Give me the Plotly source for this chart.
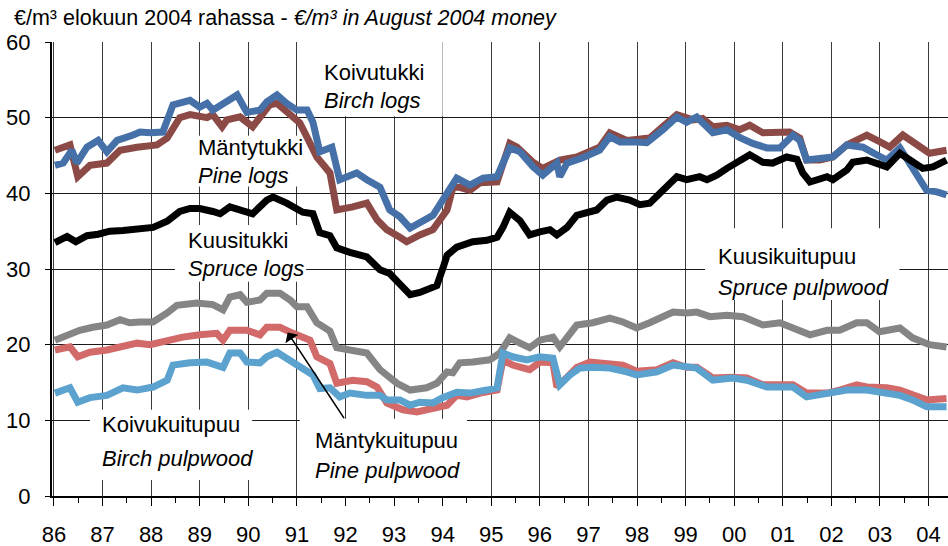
import plotly.graph_objects as go

# Real wood prices, €/m³ in August 2004 money, by decimal year
spruce_logs_t = [1986.02, 1986.27, 1986.45, 1986.68, 1986.91, 1987.15, 1987.42, 1987.77, 1988.04, 1988.33,
                 1988.59, 1988.80, 1989.00, 1989.27, 1989.42, 1989.62, 1989.83, 1990.09, 1990.38, 1990.51,
                 1990.79, 1991.12, 1991.33, 1991.47, 1991.68, 1991.82, 1992.09, 1992.44, 1992.71, 1992.91,
                 1993.12, 1993.33, 1993.53, 1993.67, 1993.88, 1994.00, 1994.09, 1994.29, 1994.62, 1994.91,
                 1995.12, 1995.24, 1995.38, 1995.59, 1995.79, 1996.00, 1996.21, 1996.35, 1996.56, 1996.76,
                 1996.97, 1997.17, 1997.38, 1997.58, 1997.85, 1998.06, 1998.26, 1998.53, 1998.82, 1999.02,
                 1999.29, 1999.44, 1999.64, 1999.85, 2000.05, 2000.32, 2000.59, 2000.79, 2001.08, 2001.29,
                 2001.41, 2001.56, 2001.91, 2002.03, 2002.32, 2002.44, 2002.73, 2002.99, 2003.14, 2003.41,
                 2003.67, 2003.88, 2004.09, 2004.37]
spruce_logs = [33.5, 34.3, 33.6, 34.4, 34.6, 35.0, 35.1, 35.3, 35.5, 36.3,
               37.6, 38.0, 38.0, 37.6, 37.3, 38.2, 37.8, 37.3, 39.1, 39.5,
               38.7, 37.5, 37.3, 34.8, 34.4, 32.8, 32.2, 31.6, 29.9, 29.4,
               28.0, 26.6, 26.9, 27.2, 27.8, 30.0, 31.8, 32.9, 33.6, 33.8,
               34.2, 35.5, 37.5, 36.4, 34.5, 34.9, 35.2, 34.5, 35.5, 37.1,
               37.5, 37.8, 39.1, 39.5, 39.1, 38.5, 38.7, 40.4, 42.2, 41.8,
               42.2, 41.8, 42.4, 43.3, 44.1, 45.1, 44.1, 44.0, 44.8, 44.5,
               42.7, 41.5, 42.2, 41.8, 43.1, 44.1, 44.4, 43.7, 43.5, 45.3,
               44.1, 43.3, 43.5, 44.4]

birch_logs_t = [1986.02, 1986.19, 1986.37, 1986.47, 1986.68, 1986.91, 1987.09, 1987.30, 1987.63, 1987.77,
                1987.98, 1988.24, 1988.45, 1988.80, 1989.00, 1989.15, 1989.27, 1989.56, 1989.77, 1989.97,
                1990.24, 1990.38, 1990.59, 1990.79, 1991.00, 1991.21, 1991.33, 1991.47, 1991.72, 1991.88,
                1992.09, 1992.23, 1992.44, 1992.71, 1992.91, 1993.12, 1993.33, 1993.53, 1993.80, 1994.00,
                1994.29, 1994.56, 1994.83, 1995.12, 1995.24, 1995.38, 1995.59, 1995.86, 1996.06, 1996.35,
                1996.41, 1996.56, 1996.88, 1997.23, 1997.44, 1997.65, 1997.91, 1998.20, 1998.53, 1998.82,
                1999.02, 1999.23, 1999.56, 1999.85, 2000.11, 2000.38, 2000.67, 2000.94, 2001.21, 2001.35,
                2001.49, 2001.76, 2002.03, 2002.32, 2002.65, 2002.93, 2003.14, 2003.41, 2003.67, 2003.96,
                2004.17, 2004.37]
birch_logs = [43.7, 44.0, 45.7, 44.0, 46.1, 47.0, 45.5, 47.0, 47.7, 48.1,
              48.0, 48.1, 51.7, 52.3, 51.4, 51.9, 51.0, 52.3, 53.0, 50.7,
              51.0, 52.1, 53.0, 51.9, 51.0, 51.0, 49.4, 45.5, 46.1, 41.8,
              42.2, 42.7, 41.8, 40.8, 37.8, 36.9, 35.4, 36.2, 37.1, 39.1,
              42.0, 41.1, 42.0, 42.2, 44.0, 46.0, 45.5, 43.5, 42.4, 44.0,
              42.2, 44.0, 44.7, 45.7, 47.5, 46.8, 46.8, 46.7, 48.4, 50.1,
              49.4, 50.1, 48.0, 48.4, 47.4, 46.6, 46.0, 46.0, 47.7, 47.0,
              44.4, 44.7, 44.8, 46.4, 46.1, 45.1, 44.4, 46.0, 43.5, 40.4,
              40.2, 39.8]

pine_logs_t = [1986.02, 1986.33, 1986.49, 1986.74, 1987.09, 1987.36, 1987.71, 1988.12, 1988.33, 1988.59,
               1988.80, 1989.15, 1989.27, 1989.46, 1989.56, 1989.83, 1990.09, 1990.44, 1990.59, 1990.79,
               1991.06, 1991.21, 1991.41, 1991.68, 1991.82, 1992.15, 1992.44, 1992.65, 1992.85, 1993.12,
               1993.26, 1993.53, 1993.80, 1994.09, 1994.21, 1994.35, 1994.56, 1994.77, 1995.12, 1995.38,
               1995.53, 1995.86, 1996.06, 1996.41, 1996.76, 1997.23, 1997.44, 1997.79, 1998.06, 1998.26,
               1998.53, 1998.82, 1999.15, 1999.35, 1999.56, 1999.85, 2000.11, 2000.32, 2000.59, 2000.88,
               2001.14, 2001.35, 2001.49, 2001.76, 2002.03, 2002.32, 2002.73, 2003.06, 2003.20, 2003.47,
               2003.82, 2004.02, 2004.37]
pine_logs = [45.7, 46.4, 42.2, 43.7, 44.0, 45.7, 46.1, 46.4, 47.3, 50.0,
             50.4, 50.0, 50.4, 48.8, 49.7, 50.1, 48.8, 51.7, 51.9, 50.7,
             49.3, 47.4, 44.8, 42.7, 37.8, 38.2, 38.7, 36.5, 35.2, 34.2,
             33.6, 34.5, 35.2, 37.8, 40.8, 40.8, 40.4, 41.4, 41.5, 46.6,
             46.1, 44.1, 43.3, 44.4, 44.8, 46.1, 48.0, 47.0, 47.2, 47.3,
             48.8, 50.4, 49.7, 49.9, 48.8, 49.0, 48.4, 49.0, 48.0, 48.0,
             48.1, 47.3, 44.4, 44.4, 44.8, 46.4, 47.7, 46.6, 46.1, 47.7,
             46.1, 45.3, 45.7]

spruce_pulp_t = [1986.02, 1986.27, 1986.53, 1986.80, 1987.09, 1987.36, 1987.56, 1987.77, 1988.04, 1988.33,
                 1988.53, 1988.94, 1989.27, 1989.48, 1989.62, 1989.83, 1989.97, 1990.24, 1990.38, 1990.65,
                 1990.86, 1991.00, 1991.21, 1991.41, 1991.68, 1991.82, 1992.15, 1992.44, 1992.71, 1993.06,
                 1993.33, 1993.67, 1993.88, 1994.09, 1994.21, 1994.35, 1994.62, 1994.97, 1995.18, 1995.38,
                 1995.59, 1995.79, 1996.00, 1996.27, 1996.41, 1996.56, 1996.76, 1997.09, 1997.44, 1997.71,
                 1997.99, 1998.26, 1998.74, 1999.02, 1999.23, 1999.50, 1999.85, 2000.18, 2000.59, 2000.94,
                 2001.21, 2001.56, 2001.91, 2002.17, 2002.52, 2002.73, 2002.99, 2003.41, 2003.67, 2004.02,
                 2004.37]
spruce_pulp = [20.6, 21.3, 21.9, 22.3, 22.6, 23.3, 22.9, 23.0, 23.0, 24.2,
               25.2, 25.5, 25.3, 24.6, 26.3, 26.6, 25.6, 25.9, 26.8, 26.8,
               25.9, 25.0, 25.0, 22.9, 21.8, 19.6, 19.3, 18.9, 16.7, 14.9,
               14.0, 14.3, 14.9, 16.4, 16.3, 17.6, 17.7, 18.0, 18.9, 20.9,
               20.2, 19.6, 20.6, 21.0, 19.7, 21.0, 22.6, 22.9, 23.5, 23.0,
               22.2, 22.9, 24.3, 24.2, 24.3, 23.7, 23.9, 23.7, 22.6, 22.9,
               22.3, 21.3, 21.9, 21.9, 22.9, 22.9, 21.7, 22.2, 20.9, 20.0,
               19.7]

pine_pulp_t = [1986.02, 1986.33, 1986.49, 1986.74, 1987.09, 1987.42, 1987.71, 1987.98, 1988.33, 1988.65,
               1989.00, 1989.35, 1989.48, 1989.62, 1989.97, 1990.24, 1990.38, 1990.65, 1990.92, 1991.12,
               1991.27, 1991.41, 1991.68, 1991.82, 1992.15, 1992.44, 1992.65, 1992.85, 1993.18, 1993.47,
               1993.80, 1994.09, 1994.29, 1994.50, 1994.77, 1995.12, 1995.24, 1995.44, 1995.79, 1996.00,
               1996.27, 1996.35, 1996.56, 1996.76, 1997.03, 1997.38, 1997.71, 1997.99, 1998.41, 1998.74,
               1999.02, 1999.23, 1999.56, 1999.97, 2000.26, 2000.59, 2001.21, 2001.49, 2001.91, 2002.17,
               2002.52, 2002.73, 2003.14, 2003.41, 2003.67, 2003.96, 2004.37]
pine_pulp = [19.3, 19.7, 18.4, 19.0, 19.3, 19.7, 20.2, 20.0, 20.6, 21.0,
             21.3, 21.5, 20.6, 21.9, 21.9, 21.3, 22.3, 22.3, 21.5, 21.0,
             20.6, 18.4, 17.5, 14.9, 15.3, 15.1, 14.4, 12.3, 11.4, 11.1,
             11.6, 12.0, 13.3, 13.1, 13.6, 14.0, 18.0, 17.3, 16.7, 17.7,
             17.6, 14.4, 15.7, 17.0, 17.7, 17.6, 17.3, 16.5, 16.7, 17.6,
             17.0, 17.0, 15.6, 15.7, 15.6, 14.7, 14.7, 13.6, 13.6, 14.0,
             14.7, 14.4, 14.3, 14.0, 13.3, 12.7, 12.9]

birch_pulp_t = [1986.02, 1986.33, 1986.49, 1986.74, 1987.09, 1987.42, 1987.71, 1988.04, 1988.33, 1988.45,
                1988.80, 1989.15, 1989.48, 1989.62, 1989.83, 1989.97, 1990.24, 1990.38, 1990.59, 1990.79,
                1991.12, 1991.33, 1991.47, 1991.68, 1991.88, 1992.09, 1992.44, 1992.71, 1992.85, 1993.12,
                1993.33, 1993.53, 1993.80, 1994.00, 1994.29, 1994.56, 1994.91, 1995.12, 1995.24, 1995.44,
                1995.73, 1996.00, 1996.27, 1996.41, 1996.62, 1996.82, 1997.09, 1997.44, 1997.79, 1997.99,
                1998.41, 1998.74, 1999.23, 1999.56, 1999.97, 2000.26, 2000.67, 2001.21, 2001.49, 2001.91,
                2002.32, 2002.73, 2003.14, 2003.41, 2003.67, 2003.96, 2004.37]
birch_pulp = [13.6, 14.3, 12.4, 13.0, 13.3, 14.3, 14.0, 14.4, 15.3, 17.3,
              17.6, 17.7, 17.0, 18.9, 18.9, 17.7, 17.6, 18.4, 19.0, 18.2,
              17.0, 16.0, 14.2, 14.3, 13.1, 13.6, 13.3, 13.3, 12.7, 12.7,
              12.0, 12.4, 12.3, 13.0, 13.7, 13.6, 14.0, 14.3, 18.9, 18.4,
              18.0, 18.4, 18.2, 14.7, 16.0, 16.9, 17.0, 16.9, 16.4, 16.0,
              16.4, 17.3, 16.9, 15.3, 15.6, 15.3, 14.4, 14.4, 13.1, 13.6,
              14.0, 14.0, 13.7, 13.3, 12.7, 11.8, 11.8]

years = list(range(1986, 2005))
year_labels = [str(y)[-2:] for y in years]

FONT = "Liberation Sans Narrow, Arial Narrow, Liberation Sans, Arial, sans-serif"

series = [
    (pine_logs_t, pine_logs, "#8C4A46", "Mäntytukki"),
    (birch_logs_t, birch_logs, "#4570A8", "Koivutukki"),
    (spruce_logs_t, spruce_logs, "#000000", "Kuusitukki"),
    (spruce_pulp_t, spruce_pulp, "#858585", "Kuusikuitupuu"),
    (pine_pulp_t, pine_pulp, "#D26A6A", "Mäntykuitupuu"),
    (birch_pulp_t, birch_pulp, "#5BA2CE", "Koivukuitupuu"),
]

fig = go.Figure()
for t, v, color, name in series:
    fig.add_trace(go.Scatter(x=t, y=v, mode="lines", name=name,
                             line=dict(color=color, width=7, shape="linear"),
                             hoverinfo="skip"))

# White label panels that interrupt the gridlines
panels = [
    (1991.20, 1994.00, 50.2, 60.0),
    (1988.76, 1991.06, 40.9, 47.6),
    (1988.49, 1991.19, 28.3, 35.8),
    (1999.40, 2003.40, 25.9, 35.4),
    (1986.74, 1990.08, 2.1, 11.4),
    (1991.06, 1994.50, 0.0, 10.2),
]
shapes = []
for x0, x1, y0, y1 in panels:
    shapes.append(dict(type="rect", xref="x", yref="y", x0=x0, x1=x1, y0=y0, y1=y1,
                       fillcolor="white", line=dict(width=0), layer="between"))

labels = [
    (1991.51, 56.0, "Koivutukki", False),
    (1991.51, 52.3, "Birch logs", True),
    (1988.92, 46.0, "Mäntytukki", False),
    (1988.92, 42.3, "Pine logs", True),
    (1988.72, 33.8, "Kuusitukki", False),
    (1988.72, 30.1, "Spruce logs", True),
    (1999.62, 31.7, "Kuusikuitupuu", False),
    (1999.62, 27.6, "Spruce pulpwood", True),
    (1986.95, 9.4, "Koivukuitupuu", False),
    (1986.95, 5.0, "Birch pulpwood", True),
    (1991.33, 7.4, "Mäntykuitupuu", False),
    (1991.33, 3.4, "Pine pulpwood", True),
]
annotations = []
for x, y, txt, it in labels:
    annotations.append(dict(x=x, y=y, xref="x", yref="y", text=f"<i>{txt}</i>" if it else txt,
                            showarrow=False, xanchor="left", yanchor="middle",
                            font=dict(family=FONT, size=22, color="black")))

# Pointer from the pine pulpwood label to its line
annotations.append(dict(x=1990.81, y=21.6, xref="x", yref="y", ax=1991.99, ay=10.1,
                        axref="x", ayref="y", text="", showarrow=True, arrowhead=1,
                        arrowsize=1.6, arrowwidth=1.6, arrowcolor="black", standoff=0))

# Unit line above the plot area
annotations.append(dict(x=-0.0446, y=1.053, xref="paper", yref="paper",
                        xanchor="left", yanchor="middle",
                        text="€/m³ elokuun 2004 rahassa - <i>€/m³ in August 2004 money</i>",
                        showarrow=False, font=dict(family=FONT, size=21.5, color="black")))

fig.update_layout(
    width=948, height=546, autosize=False,
    margin=dict(l=52, r=0, t=42, b=50),
    paper_bgcolor="white", plot_bgcolor="white",
    showlegend=False,
    shapes=shapes, annotations=annotations,
    xaxis=dict(range=[1985.96, 2004.40], tickvals=years, ticktext=year_labels,
               ticks="outside", ticklen=8, tickwidth=1.2, tickcolor="black",
               showgrid=True, gridcolor="#3a3a3a", gridwidth=1,
               showline=True, linecolor="black", linewidth=2,
               zeroline=False, ticklabelstandoff=10,
               minor=dict(dtick=0.5, tick0=1986, ticks="outside", ticklen=5,
                          tickcolor="black", tickwidth=1.2, showgrid=False),
               tickfont=dict(family=FONT, size=22, color="black")),
    yaxis=dict(range=[0, 60], dtick=10, ticks="outside", ticklen=5, tickcolor="black",
               showgrid=True, gridcolor="#1a1a1a", gridwidth=1,
               showline=True, linecolor="black", linewidth=2,
               zeroline=False, ticklabelstandoff=10,
               tickfont=dict(family=FONT, size=22, color="black")),
)

fig.write_html("out.html")
